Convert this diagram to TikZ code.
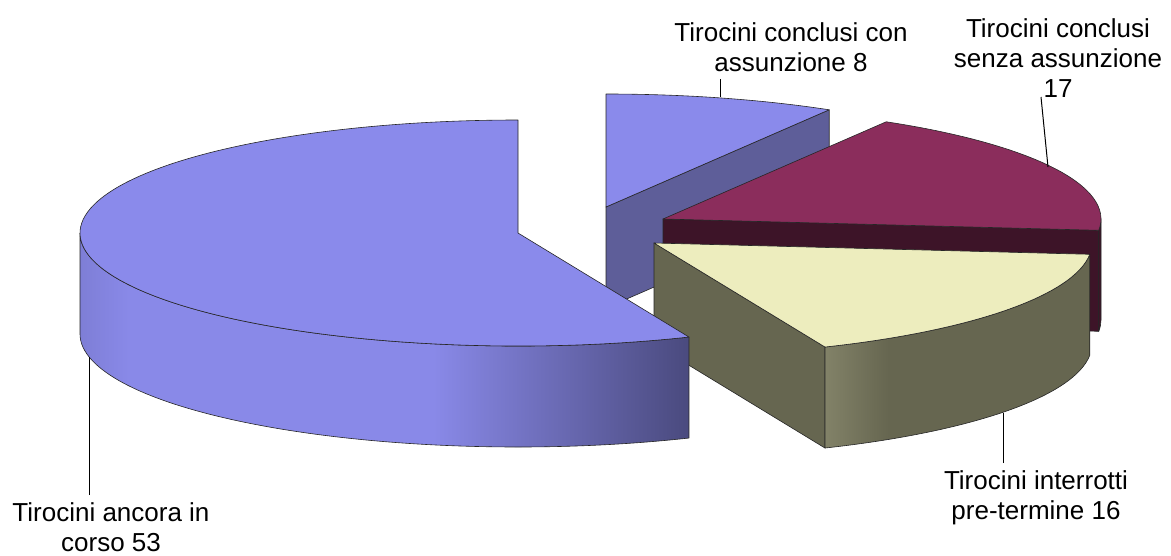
\documentclass[tikz,border=0pt]{standalone}
\usepackage{fontspec}
\setmainfont{Liberation Sans}
\usetikzlibrary{calc}
\definecolor{bluetop}{RGB}{138,138,235}
\definecolor{bluecut}{RGB}{94,94,153}
\definecolor{bsideA}{RGB}{126,126,214}
\definecolor{bsideB}{RGB}{137,137,232}
\definecolor{bsideC}{RGB}{74,74,126}
\definecolor{martop}{RGB}{139,45,92}
\definecolor{marcut}{RGB}{61,20,40}
\definecolor{yeltop}{RGB}{237,237,190}
\definecolor{olivecut}{RGB}{102,102,80}
\definecolor{olivelight}{RGB}{130,130,104}
\pgfdeclarehorizontalshading{bigside}{100bp}{color(0bp)=(bsideA); color(25bp)=(bsideA); color(29bp)=(bsideB); color(54bp)=(bsideB); color(75bp)=(bsideC); color(100bp)=(bsideC)}
\pgfdeclarehorizontalshading{yelside}{100bp}{color(0bp)=(olivelight); color(25bp)=(olivelight); color(37bp)=(olivecut); color(100bp)=(olivecut)}
\tikzset{
  face/.style={draw=black!85, line width=0.6pt, line join=round},
  lbl/.style={font=\fontsize{26pt}{30pt}\selectfont, align=center, inner sep=0pt, anchor=north},
  leader/.style={draw=black, line width=1pt},
  ell/.style={x radius=438pt, y radius=113pt},
}
\begin{document}
\begin{tikzpicture}[x=1pt,y=1pt]
\useasboundingbox (0,0) rectangle (1171,-555);
\def\aA{90}
\def\aB{59.362}
\def\aC{-5.745}
\def\aD{-67.021}
\def\DP{101}
% slice centres
\coordinate (S) at (606,-207);
\coordinate (M) at (663,-219);
\coordinate (Y) at (654,-243);
\coordinate (B) at (518,-233);
% ---------- small slice (8)
\coordinate (S1) at ($(S)+(\aB:438pt and 113pt)$);
\coordinate (Sd) at ($(S)+(0,-\DP)$);
\coordinate (S1d) at ($(S1)+(0,-\DP)$);
\filldraw[face, fill=bluecut] (S) -- (S1) -- (S1d) -- (Sd) -- cycle;
\filldraw[face, fill=bluetop] (S) -- ++(0,113) arc[ell, start angle=\aA, end angle=\aB] -- cycle;
% ---------- maroon slice (17)
\coordinate (M1) at ($(M)+(\aC:438pt and 113pt)$);
\coordinate (M0) at ($(M)+(0:438pt and 113pt)$);
\coordinate (Md) at ($(M)+(0,-\DP)$);
\coordinate (M1d) at ($(M1)+(0,-\DP)$);
\filldraw[face, fill=marcut] (M) -- (M1) -- (M1d) -- (Md) -- cycle;
\filldraw[face, fill=marcut] (M0) arc[ell, start angle=0, end angle=\aC] -- ++(0,-\DP) arc[ell, start angle=\aC, end angle=0] -- cycle;
\filldraw[face, fill=martop] (M) -- ++(\aB:438pt and 113pt) arc[ell, start angle=\aB, end angle=\aC] -- cycle;
% ---------- yellow slice (16)
\coordinate (Y1) at ($(Y)+(\aD:438pt and 113pt)$);
\coordinate (Yd) at ($(Y)+(0,-\DP)$);
\coordinate (Y1d) at ($(Y1)+(0,-\DP)$);
\filldraw[face, fill=olivecut] (Y) -- (Y1) -- (Y1d) -- (Yd) -- cycle;
\path[shading=yelside] (Y1) arc[ell, start angle=\aD, end angle=\aC] -- ++(0,-\DP) arc[ell, start angle=\aC, end angle=\aD] -- cycle;
\draw[face] (Y1) arc[ell, start angle=\aD, end angle=\aC] -- ++(0,-\DP) arc[ell, start angle=\aC, end angle=\aD] -- cycle;
\filldraw[face, fill=yeltop] (Y) -- (Y1) arc[ell, start angle=\aD, end angle=\aC] -- cycle;
% ---------- big slice (53)
\coordinate (B1) at ($(B)+(\aD:438pt and 113pt)$);
\coordinate (BL) at ($(B)+(180:438pt and 113pt)$);
\path[shading=bigside] (BL) arc[ell, start angle=180, end angle=292.979] -- ++(0,-\DP) arc[ell, start angle=292.979, end angle=180] -- cycle;
\draw[face] (BL) arc[ell, start angle=180, end angle=292.979] -- ++(0,-\DP) arc[ell, start angle=292.979, end angle=180] -- cycle;
\filldraw[face, fill=bluetop] (B) -- (B1) arc[ell, start angle=\aD, end angle=-270] -- cycle;
% ---------- labels
\node[lbl] (l8) at (791,-22.4) {Tirocini conclusi con\\assunzione 8};
\node[lbl] (l17) at (1058,-18.4) {Tirocini conclusi\\senza assunzione\\17};
\node[lbl] (l53) at (111,-502) {Tirocini ancora in\\corso 53};
\node[lbl] (l16) at (1036,-470.7) {Tirocini interrotti\\pre-termine 16};
\coordinate (k8a) at (720,-79);
\coordinate (k8b) at (720,-97);
\coordinate (k17a) at (1041,-97);
\coordinate (k17b) at (1048,-167);
\coordinate (k53a) at (89,-495);
\coordinate (k53b) at (89,-357);
\coordinate (k16a) at (1003,-463);
\coordinate (k16b) at (1003,-413);
\draw[leader] (k8a) -- (k8b);
\draw[leader] (k17a) -- (k17b);
\draw[leader] (k53a) -- (k53b);
\draw[leader] (k16a) -- (k16b);
\end{tikzpicture}
\end{document}
